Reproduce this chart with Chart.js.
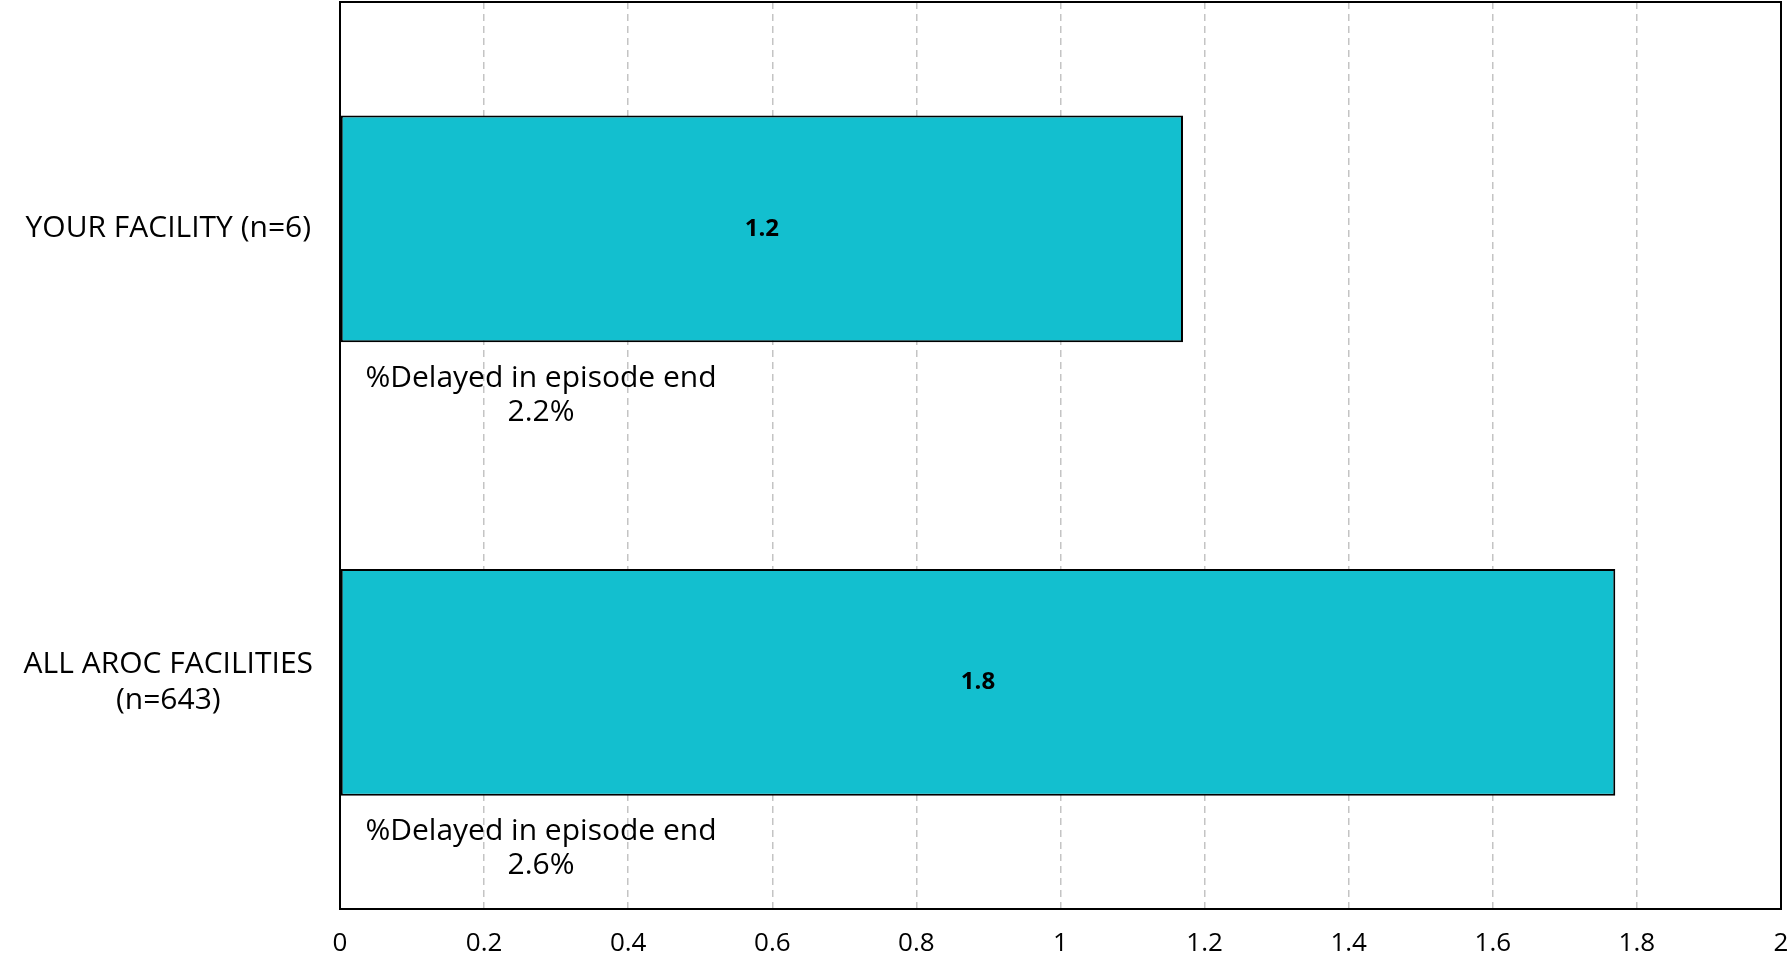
<!DOCTYPE html>
<html>
<head>
<meta charset="utf-8">
<script src="https://cdn.jsdelivr.net/npm/chart.js@4"></script>
<style>
  html, body { margin: 0; padding: 0; background: #fff; }
  #wrap { width: 1787px; height: 961px; }
</style>
</head>
<body>
<div id="wrap"><canvas id="bar-chart"></canvas></div>
<script>
var categories = [['YOUR FACILITY (n=6)'], ['ALL AROC FACILITIES', '(n=643)']];
var values = [1.17, 1.77];
var delayedPct = [2.2, 2.6];
var noteText = '%Delayed in episode end';
var xTicks = [0, 0.2, 0.4, 0.6, 0.8, 1, 1.2, 1.4, 1.6, 1.8, 2];

var FONT = 'Open Sans';

// value inside the bar + the "%Delayed" note under each bar
var barNotes = {
    id: 'barNotes',
    afterDatasetsDraw: function(chart) {
        var ctx = chart.ctx;
        var meta = chart.getDatasetMeta(0);
        var area = chart.chartArea;
        ctx.save();
        meta.data.forEach(function(bar, i) {
            var p = bar.getProps(['x', 'y', 'base', 'height'], true);
            ctx.fillStyle = '#000';
            ctx.textAlign = 'center';
            ctx.textBaseline = 'middle';
            ctx.font = 'bold 24px ' + FONT;
            ctx.fillText(values[i].toFixed(1), (p.x + p.base) / 2, p.y);

            ctx.font = '30px ' + FONT;
            var cx = area.left + 201;
            var top = p.y + p.height / 2;
            ctx.fillText(noteText, cx, top + 36);
            ctx.fillText(delayedPct[i].toFixed(1) + '%', cx, top + 70);
        });
        ctx.restore();
    },
    afterDraw: function(chart) {
        var a = chart.chartArea;
        var ctx = chart.ctx;
        ctx.save();
        ctx.strokeStyle = '#000';
        ctx.lineWidth = 2;
        ctx.strokeRect(a.left, a.top, a.right - a.left, a.bottom - a.top);
        ctx.restore();
    }
};

var ctx = document.getElementById('bar-chart').getContext('2d');
var barChart = new Chart(ctx, {
    type: 'bar',
    data: {
        labels: categories,
        datasets: [
            {
                data: values,
                backgroundColor: '#13bfcf',
                borderColor: '#000',
                borderWidth: 2,
                borderSkipped: false,
                categoryPercentage: 0.5,
                barPercentage: 1.0
            }
        ]
    },
    options: {
        indexAxis: 'y',
        responsive: true,
        maintainAspectRatio: false,
        animation: false,
        layout: {
            padding: { top: 2, left: 12, right: 6, bottom: 2 }
        },
        scales: {
            x: {
                min: 0,
                max: 2,
                afterBuildTicks: function(axis) {
                    axis.ticks = xTicks.map(function(v) { return { value: v }; });
                },
                afterFit: function(axis) {
                    axis.paddingLeft = 0;
                    axis.paddingRight = 0;
                    axis.height = 50;
                },
                ticks: {
                    color: '#000',
                    padding: 19,
                    font: { family: FONT, size: 26 },
                    callback: function(v) { return String(+v.toFixed(1)); }
                },
                grid: {
                    color: '#c4c4c4',
                    lineWidth: 1.5,
                    drawTicks: false
                },
                border: { display: true, color: '#000', width: 2, dash: [7, 5] }
            },
            y: {
                afterFit: function(axis) {
                    axis.paddingTop = 0;
                    axis.paddingBottom = 0;
                    axis.width = 328;
                },
                ticks: {
                    color: '#000',
                    padding: 27,
                    crossAlign: 'center',
                    font: { family: FONT, size: 30 }
                },
                grid: { display: false, drawTicks: false },
                border: { color: '#000', width: 2 }
            }
        },
        plugins: {
            legend: { display: false },
            tooltip: { enabled: false }
        }
    },
    plugins: [barNotes]
});
</script>
</body>
</html>
